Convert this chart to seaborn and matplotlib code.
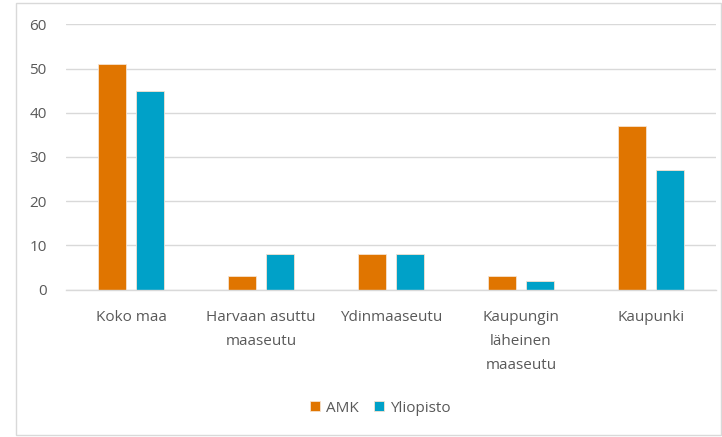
import matplotlib
matplotlib.use("Agg")
import matplotlib.pyplot as plt
from matplotlib.patches import Rectangle
import seaborn as sns
import pandas as pd

categories = ["Koko maa", "Harvaan asuttu\nmaaseutu", "Ydinmaaseutu",
              "Kaupungin\nläheinen\nmaaseutu", "Kaupunki"]
series_names = ["AMK", "Yliopisto"]
amk_values = [51, 3, 8, 3, 37]
yliopisto_values = [45, 8, 8, 2, 27]
y_ticks = [0, 10, 20, 30, 40, 50, 60]
colors = ["#E07500", "#00A1C8"]

df = pd.DataFrame({
    "category": categories * 2,
    "value": amk_values + yliopisto_values,
    "series": [series_names[0]] * len(categories) + [series_names[1]] * len(categories),
})

sns.set_style("white")
plt.rcParams["font.family"] = ["Open Sans", "DejaVu Sans"]

fig = plt.figure(figsize=(7.22, 4.37), dpi=100)
ax = fig.add_axes([66 / 722, 1 - 289.5 / 437, 650 / 722, 265.2 / 437])

sns.barplot(data=df, x="category", y="value", hue="series", order=categories,
            hue_order=series_names, palette=colors, saturation=1, width=0.585, gap=0.263,
            edgecolor="#F6E2CF", linewidth=0.6, ax=ax, legend=True)

ax.set_ylim(0, 60)
ax.set_yticks(y_ticks)
ax.set_xlim(-0.5, len(categories) - 0.5)
ax.set_xlabel("")
ax.set_ylabel("")
ax.yaxis.grid(True, color="#D9D9D9", linewidth=1.0)
ax.set_axisbelow(True)
for s in ["left", "right", "top"]:
    ax.spines[s].set_visible(False)
ax.spines["bottom"].set_color("#D9D9D9")
ax.spines["bottom"].set_linewidth(1.0)
ax.tick_params(axis="both", length=0, colors="#595959", labelsize=11)
ax.tick_params(axis="x", pad=15)
ax.tick_params(axis="y", pad=14)
for lab in ax.get_xticklabels():
    lab.set_linespacing(1.8)

handles, labels = ax.get_legend_handles_labels()
ax.legend(handles, labels, loc="center", bbox_to_anchor=(380 / 722, 1 - 408 / 437),
          bbox_transform=fig.transFigure, ncol=2, frameon=False, fontsize=11,
          handlelength=0.65, handleheight=0.65, handletextpad=0.4, columnspacing=1.0,
          labelcolor="#595959")

fig.patches.append(Rectangle((16 / 722, 2 / 437), 705 / 722, 432 / 437,
                             transform=fig.transFigure, fill=False,
                             edgecolor="#D9D9D9", linewidth=1.0))

fig.savefig("out.png", dpi=100, facecolor="white")
